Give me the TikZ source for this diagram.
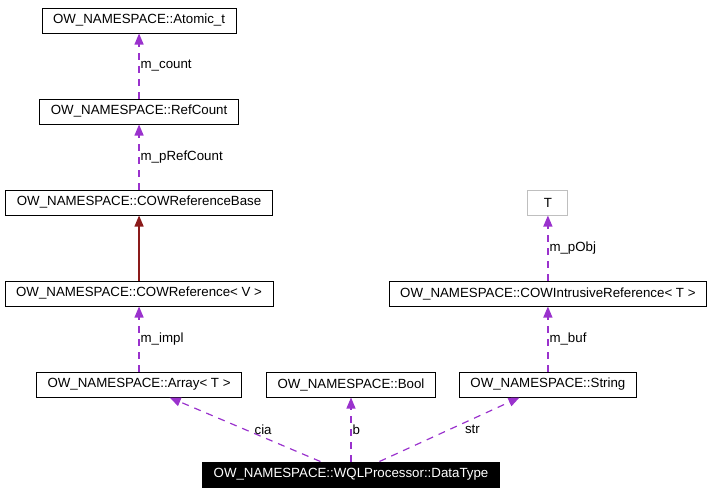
\documentclass[tikz,border=0pt]{standalone}
\usepackage{fontspec}
\setmainfont{Liberation Sans}
\usetikzlibrary{arrows.meta, positioning}
\definecolor{usecol}{HTML}{9A32CD}
\definecolor{inhcol}{HTML}{8B1A1A}

\begin{document}
\begin{tikzpicture}[x=1pt, y=1pt,
  font=\fontsize{13.3}{15}\selectfont,
  cls/.style={draw, line width=1pt, inner xsep=11pt, inner ysep=0pt, minimum height=25pt},
  tmpl/.style={cls, draw=gray!50, minimum width=40pt},
  self/.style={cls, fill=black, text=white},
  usage/.style={-{Triangle[length=11pt, width=9pt]}, line width=1.2pt, color=usecol, dash pattern=on 7pt off 6pt},
  inherit/.style={-{Triangle[length=11pt, width=9pt]}, line width=1.2pt, color=inhcol},
  lbl/.style={right, inner xsep=1pt, text=black}
]
\useasboundingbox (0,0) rectangle (712,-493);

\node[self] (dt) at (351,-474.5) {OW\_NAMESPACE::WQLProcessor::DataType};
\node[cls, above=64pt of dt] (bool) {OW\_NAMESPACE::Bool};
\node[cls, left=24pt of bool] (array) {OW\_NAMESPACE::Array< T >};
\node[cls, right=23pt of bool] (string) {OW\_NAMESPACE::String};
\node[cls, above=65pt of array] (cowref) {OW\_NAMESPACE::COWReference< V >};
\node[cls, above=65pt of cowref] (cowbase) {OW\_NAMESPACE::COWReferenceBase};
\node[cls, above=65pt of cowbase] (refcount) {OW\_NAMESPACE::RefCount};
\node[cls, above=65pt of refcount] (atomic) {OW\_NAMESPACE::Atomic\_t};
\node[cls, above=65pt of string] (intref) {OW\_NAMESPACE::COWIntrusiveReference< T >};
\node[tmpl, above=65pt of intref] (tparam) {T};

\draw[usage] (dt) -- node[lbl, xshift=8pt] {cia} (array);
\draw[usage] (dt) -- node[lbl] {b} (bool);
\draw[usage] (dt) -- node[lbl, xshift=14pt] {str} (string);
\draw[usage] (array) -- node[lbl] {m\_impl} (cowref);
\draw[inherit] (cowref) -- (cowbase);
\draw[usage] (cowbase) -- node[lbl] {m\_pRefCount} (refcount);
\draw[usage] (refcount) -- node[lbl] {m\_count} (atomic);
\draw[usage] (string) -- node[lbl] {m\_buf} (intref);
\draw[usage] (intref) -- node[lbl] {m\_pObj} (tparam);
\end{tikzpicture}
\end{document}
